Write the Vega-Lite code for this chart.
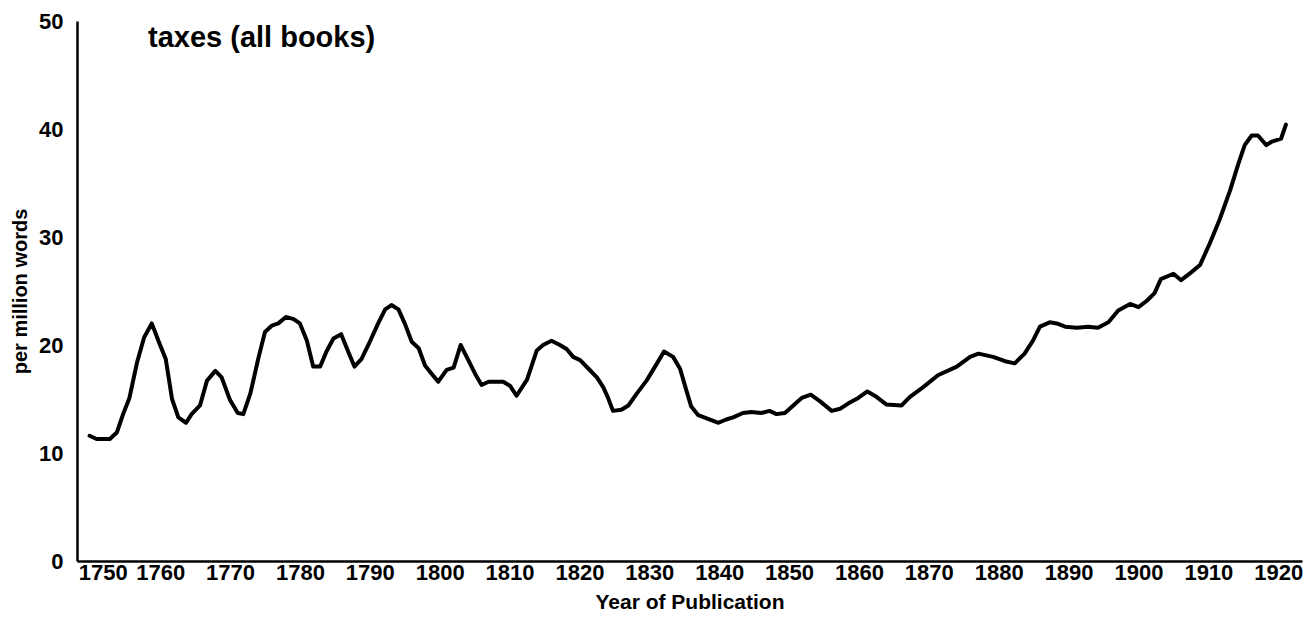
{
  "$schema": "https://vega.github.io/schema/vega-lite/v6.json",
  "description": "taxes (all books), per million words by year of publication",
  "autosize": {"type": "none"},
  "width": 1225,
  "height": 540,
  "padding": {"left": 77, "top": 21, "right": 6, "bottom": 63},
  "background": "white",
  "config": {
    "view": {"stroke": null},
    "axis": {
      "grid": false,
      "ticks": false,
      "domainColor": "black",
      "domainWidth": 2.5,
      "labelFont": "Liberation Sans",
      "labelFontWeight": "bold",
      "labelFontSize": 22,
      "labelColor": "black",
      "titleFont": "Liberation Sans",
      "titleFontWeight": "bold",
      "titleColor": "black"
    }
  },
  "title": {
    "text": "taxes (all books)",
    "anchor": "start",
    "frame": "group",
    "font": "Liberation Sans",
    "fontWeight": "bold",
    "fontSize": 29,
    "color": "black",
    "baseline": "alphabetic",
    "offset": -66,
    "dx": 71
  },
  "data": {
    "values": [
      {"year": 1749.9, "per_million": 11.6},
      {"year": 1750.9, "per_million": 11.3},
      {"year": 1752.8, "per_million": 11.3},
      {"year": 1753.8, "per_million": 11.9},
      {"year": 1754.7, "per_million": 13.6},
      {"year": 1755.6, "per_million": 15.1},
      {"year": 1756.7, "per_million": 18.4},
      {"year": 1757.7, "per_million": 20.7},
      {"year": 1758.8, "per_million": 22.0},
      {"year": 1759.8, "per_million": 20.3},
      {"year": 1760.8, "per_million": 18.7},
      {"year": 1761.7, "per_million": 15.0},
      {"year": 1762.6, "per_million": 13.3},
      {"year": 1763.7, "per_million": 12.8},
      {"year": 1764.5, "per_million": 13.6},
      {"year": 1765.7, "per_million": 14.4},
      {"year": 1766.7, "per_million": 16.7},
      {"year": 1767.9, "per_million": 17.6},
      {"year": 1768.8, "per_million": 17.0},
      {"year": 1770.0, "per_million": 14.9},
      {"year": 1771.1, "per_million": 13.7},
      {"year": 1771.9, "per_million": 13.6},
      {"year": 1772.9, "per_million": 15.5},
      {"year": 1774.1, "per_million": 18.9},
      {"year": 1775.0, "per_million": 21.2},
      {"year": 1776.0, "per_million": 21.8},
      {"year": 1776.9, "per_million": 22.0},
      {"year": 1778.0, "per_million": 22.6},
      {"year": 1779.1, "per_million": 22.4},
      {"year": 1780.0, "per_million": 22.0},
      {"year": 1781.0, "per_million": 20.4},
      {"year": 1781.9, "per_million": 18.0},
      {"year": 1782.9, "per_million": 18.0},
      {"year": 1783.8, "per_million": 19.4},
      {"year": 1784.8, "per_million": 20.6},
      {"year": 1785.9, "per_million": 21.0},
      {"year": 1786.9, "per_million": 19.4},
      {"year": 1787.8, "per_million": 18.0},
      {"year": 1788.8, "per_million": 18.7},
      {"year": 1790.0, "per_million": 20.3},
      {"year": 1791.2, "per_million": 22.0},
      {"year": 1792.2, "per_million": 23.3},
      {"year": 1793.1, "per_million": 23.7},
      {"year": 1794.1, "per_million": 23.3},
      {"year": 1795.0, "per_million": 22.0},
      {"year": 1796.0, "per_million": 20.3},
      {"year": 1797.0, "per_million": 19.7},
      {"year": 1797.9, "per_million": 18.1},
      {"year": 1798.9, "per_million": 17.3},
      {"year": 1799.8, "per_million": 16.6},
      {"year": 1801.0, "per_million": 17.7},
      {"year": 1802.0, "per_million": 17.9},
      {"year": 1803.0, "per_million": 20.0},
      {"year": 1804.1, "per_million": 18.6},
      {"year": 1805.1, "per_million": 17.3},
      {"year": 1806.0, "per_million": 16.3},
      {"year": 1807.0, "per_million": 16.6},
      {"year": 1809.1, "per_million": 16.6},
      {"year": 1810.1, "per_million": 16.2},
      {"year": 1811.0, "per_million": 15.3},
      {"year": 1812.5, "per_million": 16.8},
      {"year": 1813.9, "per_million": 19.5},
      {"year": 1814.8, "per_million": 20.0},
      {"year": 1816.0, "per_million": 20.4},
      {"year": 1817.2, "per_million": 20.0},
      {"year": 1818.2, "per_million": 19.6},
      {"year": 1819.1, "per_million": 18.9},
      {"year": 1820.1, "per_million": 18.6},
      {"year": 1821.3, "per_million": 17.8},
      {"year": 1822.5, "per_million": 17.0},
      {"year": 1823.4, "per_million": 16.1},
      {"year": 1824.1, "per_million": 15.1},
      {"year": 1824.8, "per_million": 13.9},
      {"year": 1826.0, "per_million": 14.0},
      {"year": 1827.0, "per_million": 14.4},
      {"year": 1828.2, "per_million": 15.5},
      {"year": 1829.6, "per_million": 16.7},
      {"year": 1831.1, "per_million": 18.3},
      {"year": 1832.1, "per_million": 19.4},
      {"year": 1833.4, "per_million": 18.9},
      {"year": 1834.4, "per_million": 17.8},
      {"year": 1835.3, "per_million": 15.8},
      {"year": 1836.0, "per_million": 14.3},
      {"year": 1837.0, "per_million": 13.5},
      {"year": 1838.2, "per_million": 13.2},
      {"year": 1839.9, "per_million": 12.8},
      {"year": 1841.0, "per_million": 13.1},
      {"year": 1842.0, "per_million": 13.3},
      {"year": 1843.4, "per_million": 13.7},
      {"year": 1844.6, "per_million": 13.8},
      {"year": 1846.0, "per_million": 13.7},
      {"year": 1847.2, "per_million": 13.9},
      {"year": 1848.2, "per_million": 13.6},
      {"year": 1849.4, "per_million": 13.7},
      {"year": 1850.6, "per_million": 14.4},
      {"year": 1851.8, "per_million": 15.1},
      {"year": 1853.1, "per_million": 15.4},
      {"year": 1854.4, "per_million": 14.8},
      {"year": 1856.1, "per_million": 13.9},
      {"year": 1857.3, "per_million": 14.1},
      {"year": 1858.5, "per_million": 14.6},
      {"year": 1859.9, "per_million": 15.1},
      {"year": 1861.2, "per_million": 15.7},
      {"year": 1862.5, "per_million": 15.2},
      {"year": 1863.9, "per_million": 14.5},
      {"year": 1866.1, "per_million": 14.4},
      {"year": 1867.3, "per_million": 15.2},
      {"year": 1869.2, "per_million": 16.1},
      {"year": 1871.3, "per_million": 17.2},
      {"year": 1874.0, "per_million": 18.0},
      {"year": 1875.9, "per_million": 18.9},
      {"year": 1877.1, "per_million": 19.2},
      {"year": 1879.2, "per_million": 18.9},
      {"year": 1880.9, "per_million": 18.5},
      {"year": 1882.3, "per_million": 18.3},
      {"year": 1883.7, "per_million": 19.2},
      {"year": 1884.9, "per_million": 20.4},
      {"year": 1885.9, "per_million": 21.7},
      {"year": 1887.3, "per_million": 22.1},
      {"year": 1888.3, "per_million": 22.0},
      {"year": 1889.5, "per_million": 21.7},
      {"year": 1891.2, "per_million": 21.6},
      {"year": 1892.8, "per_million": 21.7},
      {"year": 1894.2, "per_million": 21.6},
      {"year": 1895.7, "per_million": 22.1},
      {"year": 1897.1, "per_million": 23.2},
      {"year": 1898.8, "per_million": 23.8},
      {"year": 1900.0, "per_million": 23.5},
      {"year": 1901.2, "per_million": 24.1},
      {"year": 1902.3, "per_million": 24.8},
      {"year": 1903.2, "per_million": 26.1},
      {"year": 1905.0, "per_million": 26.6},
      {"year": 1906.1, "per_million": 26.0},
      {"year": 1907.5, "per_million": 26.7},
      {"year": 1908.8, "per_million": 27.4},
      {"year": 1910.2, "per_million": 29.4},
      {"year": 1911.6, "per_million": 31.6},
      {"year": 1913.1, "per_million": 34.3},
      {"year": 1914.3, "per_million": 36.8},
      {"year": 1915.2, "per_million": 38.5},
      {"year": 1916.2, "per_million": 39.4},
      {"year": 1917.1, "per_million": 39.4},
      {"year": 1918.3, "per_million": 38.5},
      {"year": 1919.0, "per_million": 38.8},
      {"year": 1920.4, "per_million": 39.1},
      {"year": 1921.1, "per_million": 40.4}
    ]
  },
  "mark": {"type": "line", "color": "black", "strokeWidth": 4, "strokeJoin": "round", "strokeCap": "round"},
  "encoding": {
    "x": {
      "field": "year",
      "type": "quantitative",
      "scale": {"domain": [1748.1, 1923.4], "nice": false, "zero": false},
      "axis": {
        "title": "Year of Publication",
        "titleFontSize": 21,
        "titlePadding": 8,
        "values": [1750, 1760, 1770, 1780, 1790, 1800, 1810, 1820, 1830, 1840, 1850, 1860, 1870, 1880, 1890, 1900, 1910, 1920],
        "format": "d",
        "labelPadding": 1,
        "labelOverlap": false,
        "labelFlush": 20,
        "labelFlushOffset": 12
      }
    },
    "y": {
      "field": "per_million",
      "type": "quantitative",
      "scale": {"domain": [0, 50], "nice": false},
      "axis": {
        "title": "per million words",
        "titleFontSize": 20,
        "titlePadding": 8,
        "values": [0, 10, 20, 30, 40, 50],
        "labelPadding": 14,
        "labelFlush": false,
        "labelOverlap": false
      }
    }
  }
}
